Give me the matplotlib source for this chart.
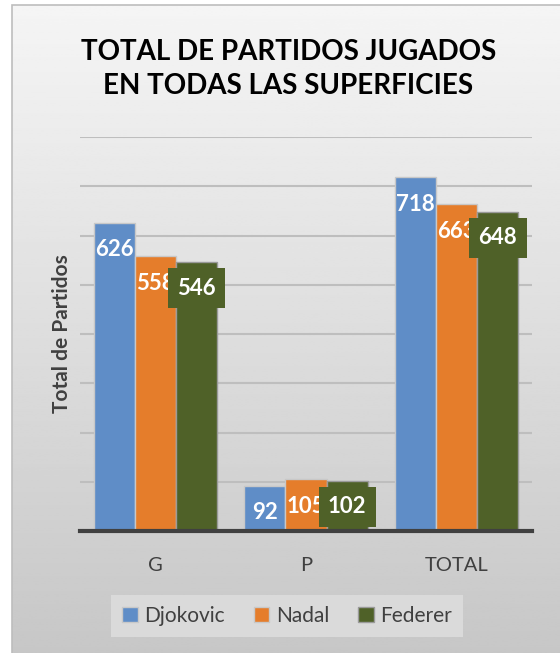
import numpy as np
import matplotlib
matplotlib.use("Agg")
import matplotlib.pyplot as plt
from matplotlib.patches import Rectangle

plt.rcParams['font.family'] = ['Lato', 'DejaVu Sans']

# data
categories = ["G", "P", "TOTAL"]
players = ["Djokovic", "Nadal", "Federer"]
djokovic = [626, 92, 718]
nadal = [558, 105, 663]
federer = [546, 102, 648]
colors = ["#5F8DC7", "#E57D2B", "#4F6128"]

fig = plt.figure(figsize=(5.6, 6.53), dpi=100)

# gradient background frame
bg = fig.add_axes([12 / 560, 0, 1 - 12 / 560, 1 - 5 / 653], zorder=-10)
grad = np.linspace(0.96, 0.78, 256).reshape(-1, 1)
bg.imshow(grad, cmap="gray", vmin=0, vmax=1, aspect="auto", extent=[0, 1, 0, 1])
bg.set_xlim(0, 1)
bg.set_ylim(0, 1)
bg.axis("off")
fig.patches.append(Rectangle((12 / 560, -0.01), 1.0, 1 - 5 / 653 + 0.01,
                             transform=fig.transFigure, fill=False,
                             edgecolor="#BDBDBD", lw=1.2, zorder=-5))

ax = fig.add_axes([80 / 560, 1 - 531 / 653, 452 / 560, (531 - 137) / 653])
ax.patch.set_alpha(0)

x = np.arange(len(categories))
w = 0.273
series = [djokovic, nadal, federer]
for i, (vals, name, c) in enumerate(zip(series, players, colors)):
    pos = x + (i - 1) * w
    ax.bar(pos, vals, width=w, color=c, edgecolor="#C8C8C8" if i < 2 else "#9A9A9A",
           linewidth=1.0, label=name, zorder=3)
    for xp, v in zip(pos, vals):
        if i == 2:
            ax.annotate(str(v), (xp, v), xytext=(0, -26), textcoords="offset pixels",
                        ha="center", va="center", color="white", fontsize=16,
                        fontweight="bold", zorder=5,
                        bbox=dict(boxstyle="square,pad=0.42", fc=c, ec="none"))
        else:
            ax.annotate(str(v), (xp, v), xytext=(0, -27), textcoords="offset pixels",
                        ha="center", va="center", color="white", fontsize=16,
                        fontweight="bold", zorder=5)

ax.set_xlim(-0.5, 2.5)
ax.set_ylim(0, 800)
ax.set_yticks(np.arange(100, 801, 100))
ax.set_yticklabels([])
ax.tick_params(axis="y", length=0)
ax.tick_params(axis="x", length=0, pad=19, labelsize=14.5, labelcolor="#404040")
ax.set_xticks(x)
ax.set_xticklabels(categories)
ax.grid(axis="y", color="#BEBEBE", lw=1.5, zorder=0)
for s in ["top", "right", "left"]:
    ax.spines[s].set_visible(False)
ax.spines["bottom"].set_color("#404040")
ax.spines["bottom"].set_linewidth(3)
ax.spines["bottom"].set_zorder(4)

ax.set_ylabel("Total de Partidos", fontsize=15, fontweight="bold", color="#404040",
              labelpad=2)

fig.text(0.515, 1 - 69 / 653, "TOTAL DE PARTIDOS JUGADOS\nEN TODAS LAS SUPERFICIES",
         ha="center", va="center", fontsize=20, fontweight="bold", color="black",
         linespacing=1.4)

leg = fig.legend(loc="center", bbox_to_anchor=(287 / 560, 1 - 616 / 653), ncol=3,
                 frameon=True, fancybox=False, facecolor="#DADADA", edgecolor="none",
                 framealpha=1, fontsize=15, handlelength=0.75, handleheight=0.75,
                 handletextpad=0.3, columnspacing=1.4, borderpad=0.55)
for t in leg.get_texts():
    t.set_color("#404040")

fig.savefig("out.png", dpi=100)
